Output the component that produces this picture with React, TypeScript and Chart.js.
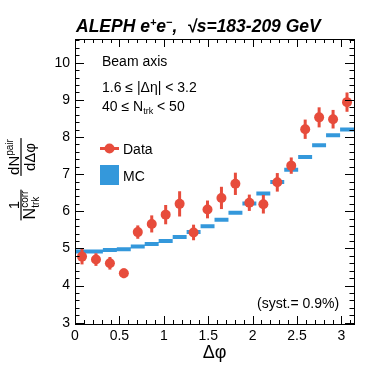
import React, { useEffect, useRef } from 'react';
import { Chart, registerables } from 'chart.js';

Chart.register(...registerables);

// ---- data ----
const binEdges = [0, 0.157, 0.314, 0.471, 0.628, 0.785, 0.942, 1.1, 1.257, 1.414, 1.571, 1.728, 1.885, 2.042, 2.199, 2.356, 2.513, 2.67, 2.827, 2.985, 3.142];
const binCenters = [0.079, 0.236, 0.393, 0.55, 0.707, 0.864, 1.021, 1.178, 1.335, 1.492, 1.649, 1.806, 1.963, 2.121, 2.278, 2.435, 2.592, 2.749, 2.906, 3.063];
const dataValues = [4.78, 4.7, 4.6, 4.33, 5.44, 5.66, 5.91, 6.2, 5.43, 6.05, 6.36, 6.74, 6.23, 6.19, 6.78, 7.23, 8.21, 8.53, 8.48, 8.94];
const dataErrors = [0.21, 0.17, 0.17, 0.13, 0.18, 0.23, 0.26, 0.34, 0.21, 0.24, 0.3, 0.3, 0.22, 0.25, 0.25, 0.22, 0.26, 0.27, 0.25, 0.26];
const mcValues = [4.92, 4.92, 4.96, 4.98, 5.05, 5.12, 5.2, 5.31, 5.44, 5.6, 5.77, 5.96, 6.21, 6.48, 6.79, 7.12, 7.46, 7.78, 8.05, 8.2];
const xTickValues = [0, 0.5, 1, 1.5, 2, 2.5, 3];
const yTickValues = [3, 4, 5, 6, 7, 8, 9, 10];

const RED = '#e74c3c';
const BLUE = '#3498db';
const FONT = '"Liberation Sans", Arial, Helvetica, sans-serif';

type Run = { t: string; size: number; dy?: number; style?: string };

function setFont(ctx: CanvasRenderingContext2D, r: Run) {
  ctx.font = `${r.style || ''} ${r.size}px ${FONT}`;
}
function measureRuns(ctx: CanvasRenderingContext2D, runs: Run[]) {
  let w = 0;
  for (const r of runs) {
    setFont(ctx, r);
    w += ctx.measureText(r.t).width;
  }
  return w;
}
function drawRuns(ctx: CanvasRenderingContext2D, runs: Run[], x: number, y: number) {
  let cx = x;
  for (const r of runs) {
    setFont(ctx, r);
    ctx.fillText(r.t, cx, y + (r.dy || 0));
    cx += ctx.measureText(r.t).width;
  }
  return cx - x;
}

const decorPlugin = {
  id: 'decor',
  afterDatasetsDraw(chart: any) {
    const ctx = chart.ctx as CanvasRenderingContext2D;
    const xs = chart.scales.x;
    const ys = chart.scales.y;
    ctx.save();
    ctx.strokeStyle = RED;
    ctx.lineWidth = 3;
    for (let i = 0; i < dataValues.length; i++) {
      const px = xs.getPixelForValue(binCenters[i]);
      ctx.beginPath();
      ctx.moveTo(px, ys.getPixelForValue(dataValues[i] - dataErrors[i]));
      ctx.lineTo(px, ys.getPixelForValue(dataValues[i] + dataErrors[i]));
      ctx.stroke();
    }
    ctx.restore();
  },
  afterDraw(chart: any) {
    const ctx = chart.ctx as CanvasRenderingContext2D;
    const xs = chart.scales.x;
    const ys = chart.scales.y;
    const a = chart.chartArea;
    ctx.save();
    // frame
    ctx.strokeStyle = '#000';
    ctx.lineWidth = 1;
    ctx.strokeRect(Math.round(a.left) + 0.5, Math.round(a.top) + 0.5, Math.round(a.right - a.left), Math.round(a.bottom - a.top));
    // x ticks
    ctx.beginPath();
    for (let k = 0; k <= 31; k++) {
      const v = k / 10;
      const px = Math.round(xs.getPixelForValue(v)) + 0.5;
      const len = k % 5 === 0 ? 8 : 4;
      ctx.moveTo(px, a.bottom);
      ctx.lineTo(px, a.bottom - len);
      ctx.moveTo(px, a.top);
      ctx.lineTo(px, a.top + len);
    }
    // y ticks
    for (let k = 0; k <= 38; k++) {
      const v = 3 + k * 0.2;
      if (v > ys.max) break;
      const py = Math.round(ys.getPixelForValue(v)) + 0.5;
      const len = k % 5 === 0 ? 9 : 4.5;
      ctx.moveTo(a.left, py);
      ctx.lineTo(a.left + len, py);
      ctx.moveTo(a.right, py);
      ctx.lineTo(a.right - len, py);
    }
    ctx.stroke();

    ctx.fillStyle = '#000';
    ctx.textBaseline = 'alphabetic';
    ctx.textAlign = 'left';

    // title
    drawRuns(
      ctx,
      [
        { t: 'ALEPH e', size: 17.5, style: 'italic bold' },
        { t: '+', size: 11, dy: -6, style: 'italic bold' },
        { t: 'e', size: 17.5, style: 'italic bold' },
        { t: '\u2212', size: 11, dy: -6, style: 'italic bold' },
        { t: ',  \u221As=183-209 GeV', size: 17.5, style: 'italic bold' },
      ],
      76,
      32
    );

    // labels in plot
    drawRuns(ctx, [{ t: 'Beam axis', size: 14 }], 102, 66);
    drawRuns(ctx, [{ t: '1.6 \u2264 |\u0394\u03B7| < 3.2', size: 14 }], 102, 91.5);
    const w1 = drawRuns(ctx, [{ t: '40 \u2264 N', size: 14 }], 102, 111);
    const wsub = drawRuns(ctx, [{ t: 'trk', size: 9 }], 102 + w1, 114);
    drawRuns(ctx, [{ t: ' < 50', size: 14 }], 102 + w1 + wsub, 111);

    // legend
    ctx.strokeStyle = RED;
    ctx.lineWidth = 3;
    ctx.beginPath();
    ctx.moveTo(100, 148.5);
    ctx.lineTo(119, 148.5);
    ctx.stroke();
    ctx.fillStyle = RED;
    ctx.beginPath();
    ctx.arc(109.5, 148.5, 5, 0, Math.PI * 2);
    ctx.fill();
    ctx.fillStyle = BLUE;
    ctx.fillRect(100, 165, 19, 20);
    ctx.fillStyle = '#000';
    drawRuns(ctx, [{ t: 'Data', size: 14 }], 123, 154);
    drawRuns(ctx, [{ t: 'MC', size: 14 }], 123, 180.5);

    drawRuns(ctx, [{ t: '(syst.= 0.9%)', size: 14 }], 257, 308);

    // x title
    ctx.textAlign = 'center';
    ctx.font = `18px ${FONT}`;
    ctx.fillText('\u0394\u03C6', (a.left + a.right) / 2, 358);
    ctx.textAlign = 'left';

    // y title (rotated)
    ctx.save();
    ctx.translate(21, 179);
    ctx.rotate(-Math.PI / 2);
    // fraction A: 1 / N^corr_trk
    {
      const nRun: Run = { t: 'N', size: 16 };
      setFont(ctx, nRun);
      const nW = ctx.measureText('N').width;
      ctx.font = `10px ${FONT}`;
      const supW = ctx.measureText('corr').width;
      const subW = ctx.measureText('trk').width;
      const denW = nW + Math.max(supW, subW);
      const cu = -26;
      const u0 = cu - denW / 2;
      ctx.fillRect(u0 - 1, -0.6, denW + 2, 1.2);
      ctx.font = `15px ${FONT}`;
      ctx.textAlign = 'center';
      ctx.fillText('1', cu, -2.5);
      ctx.textAlign = 'left';
      setFont(ctx, nRun);
      ctx.fillText('N', u0, 14);
      ctx.font = `10px ${FONT}`;
      ctx.fillText('corr', u0 + nW, 7);
      ctx.fillText('trk', u0 + nW, 17.5);
    }
    // fraction B: dN^pair / dΔφ
    {
      const num: Run[] = [
        { t: 'dN', size: 15 },
        { t: 'pair', size: 10, dy: -6 },
      ];
      const numW = measureRuns(ctx, num);
      ctx.font = `15px ${FONT}`;
      const denW = ctx.measureText('d\u0394\u03C6').width;
      const cu = 22;
      const barW = Math.max(numW, denW);
      ctx.fillRect(cu - barW / 2 - 1, -0.6, barW + 2, 1.2);
      drawRuns(ctx, num, cu - numW / 2, -2.5);
      ctx.textAlign = 'center';
      ctx.font = `15px ${FONT}`;
      ctx.fillText('d\u0394\u03C6', cu, 13.5);
      ctx.textAlign = 'left';
    }
    ctx.restore();

    ctx.restore();
  },
};

export default function App() {
  const canvasRef = useRef<HTMLCanvasElement | null>(null);

  useEffect(() => {
    document.body.style.margin = '0';
    const canvas = canvasRef.current;
    if (!canvas) return;

    const mcLine: { x: number; y: number | null }[] = [];
    for (let i = 0; i < mcValues.length; i++) {
      mcLine.push({ x: binEdges[i], y: mcValues[i] });
      mcLine.push({ x: binEdges[i + 1], y: mcValues[i] });
      mcLine.push({ x: binEdges[i + 1], y: null });
    }
    const dataPts = binCenters.map((x, i) => ({ x, y: dataValues[i] }));

    const chart = new Chart(canvas, {
      type: 'scatter',
      data: {
        datasets: [
          {
            type: 'scatter',
            label: 'Data',
            data: dataPts,
            pointRadius: 5,
            pointHoverRadius: 5,
            pointBackgroundColor: RED,
            pointBorderWidth: 0,
            backgroundColor: RED,
            borderColor: RED,
          },
          {
            type: 'line',
            label: 'MC',
            data: mcLine as any,
            borderColor: BLUE,
            borderWidth: 4,
            borderCapStyle: 'butt',
            pointRadius: 0,
            spanGaps: false,
            fill: false,
            tension: 0,
          },
        ],
      },
      options: {
        animation: false,
        responsive: false,
        maintainAspectRatio: false,
        events: [],
        layout: { padding: { left: 0, right: 20, top: 39, bottom: 0 } },
        plugins: {
          legend: { display: false },
          tooltip: { enabled: false },
          title: { display: false },
        },
        scales: {
          x: {
            type: 'linear',
            min: 0,
            max: Math.PI,
            grid: { display: false, drawTicks: false },
            border: { display: false },
            afterBuildTicks: (s: any) => {
              s.ticks = xTickValues.map((v) => ({ value: v }));
            },
            afterFit: (s: any) => {
              s.height = 45;
            },
            ticks: {
              autoSkip: false,
              maxRotation: 0,
              padding: 4,
              color: '#000',
              font: { family: FONT, size: 14 },
              callback: (v: any) => String(v),
            },
          },
          y: {
            type: 'linear',
            min: 2.965,
            max: 10.64,
            grid: { display: false, drawTicks: false },
            border: { display: false },
            afterBuildTicks: (s: any) => {
              s.ticks = yTickValues.map((v) => ({ value: v }));
            },
            afterFit: (s: any) => {
              s.width = 75;
            },
            ticks: {
              autoSkip: false,
              padding: 5,
              color: '#000',
              font: { family: FONT, size: 14 },
              callback: (v: any) => String(v),
            },
          },
        },
      },
      plugins: [decorPlugin],
    });
    return () => chart.destroy();
  }, []);

  return (
    <div style={{ width: 374, height: 369 }}>
      <canvas ref={canvasRef} width={374} height={369} style={{ display: 'block' }} />
    </div>
  );
}
